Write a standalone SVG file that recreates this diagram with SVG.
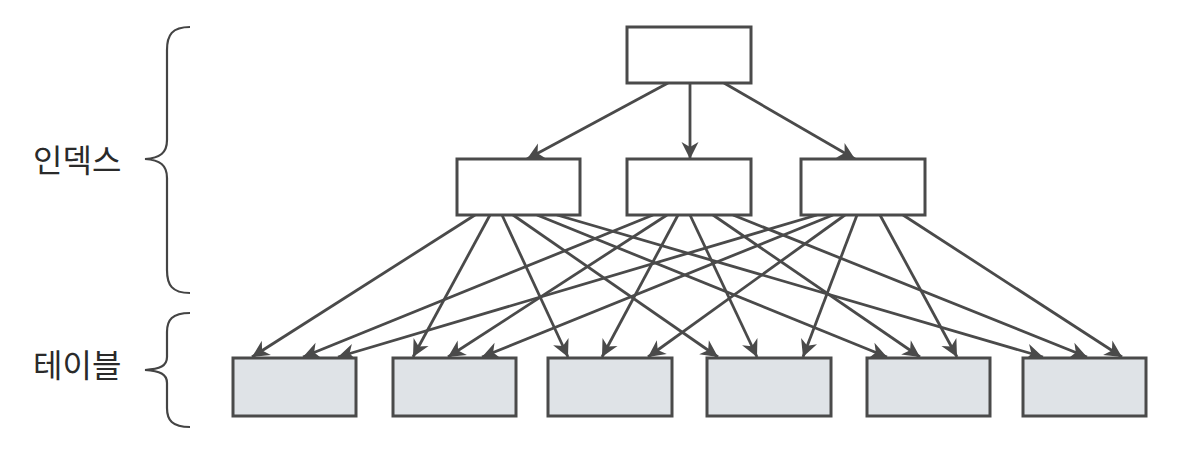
<svg xmlns="http://www.w3.org/2000/svg" width="1178" height="452" viewBox="0 0 1178 452">
<style>
.idx{fill:#ffffff;stroke:#4a4a4a;stroke-width:3}
.tbl{fill:#dfe3e7;stroke:#4a4a4a;stroke-width:3}
.brace{fill:none;stroke:#444;stroke-width:2.2}
.lbl{font-family:"Noto Sans CJK KR","Noto Sans",sans-serif;font-size:32px;fill:#2a2a2a}
#connectors line{stroke:#4a4a4a;stroke-width:2.8;marker-end:url(#ah)}
</style>
<defs>
<marker id="ah" markerUnits="userSpaceOnUse" markerWidth="22" markerHeight="22" viewBox="-18 -11 20 22" refX="0" refY="0" orient="auto">
<path d="M0,0 L-17,-8.5 L-12,0 L-17,8.5 Z" fill="#4a4a4a"/>
</marker>
</defs>
<rect width="1178" height="452" fill="#ffffff"/>
<g id="labels">
<text class="lbl" x="33" y="172">인덱스</text>
<path class="brace" d="M190,27 C172,27 167,35 167,50 L167,140 C167,153 160,158 145,159 C160,160 167,165 167,178 L167,270 C167,285 172,293 190,293"/>
<text class="lbl" x="33" y="377">테이블</text>
<path class="brace" d="M190,313 C172,313 167,320 167,332 L167,357 C167,366 160,369 145,370 C160,371 167,374 167,383 L167,408 C167,420 172,427 190,427"/>
</g>
<g id="connectors">
<line x1="668" y1="83" x2="527" y2="159"/>
<line x1="690" y1="83" x2="690" y2="159"/>
<line x1="724" y1="83" x2="855" y2="159"/>
<line x1="475" y1="215" x2="252" y2="357"/>
<line x1="490" y1="215" x2="413" y2="357"/>
<line x1="502" y1="215" x2="568" y2="357"/>
<line x1="513" y1="215" x2="718" y2="357"/>
<line x1="537" y1="215" x2="887" y2="357"/>
<line x1="557" y1="215" x2="1043" y2="357"/>
<line x1="653" y1="215" x2="303" y2="357"/>
<line x1="667" y1="215" x2="448" y2="357"/>
<line x1="678" y1="215" x2="602" y2="357"/>
<line x1="690" y1="215" x2="757" y2="357"/>
<line x1="713" y1="215" x2="920" y2="357"/>
<line x1="733" y1="215" x2="1087" y2="357"/>
<line x1="817" y1="215" x2="338" y2="357"/>
<line x1="833" y1="215" x2="482" y2="357"/>
<line x1="845" y1="215" x2="648" y2="357"/>
<line x1="857" y1="215" x2="803" y2="357"/>
<line x1="880" y1="215" x2="957" y2="357"/>
<line x1="903" y1="215" x2="1122" y2="357"/>
</g>
<g id="root"><rect class="idx" x="627" y="27" width="124" height="56"/></g>
<g id="mid1"><rect class="idx" x="457" y="159" width="123" height="56"/></g>
<g id="mid2"><rect class="idx" x="627" y="159" width="124" height="56"/></g>
<g id="mid3"><rect class="idx" x="801" y="159" width="124" height="56"/></g>
<g id="t1"><rect class="tbl" x="233" y="358" width="123" height="58"/></g>
<g id="t2"><rect class="tbl" x="393" y="358" width="123" height="58"/></g>
<g id="t3"><rect class="tbl" x="548" y="358" width="124" height="58"/></g>
<g id="t4"><rect class="tbl" x="707" y="358" width="124" height="58"/></g>
<g id="t5"><rect class="tbl" x="867" y="358" width="123" height="58"/></g>
<g id="t6"><rect class="tbl" x="1023" y="358" width="123" height="58"/></g>
</svg>
